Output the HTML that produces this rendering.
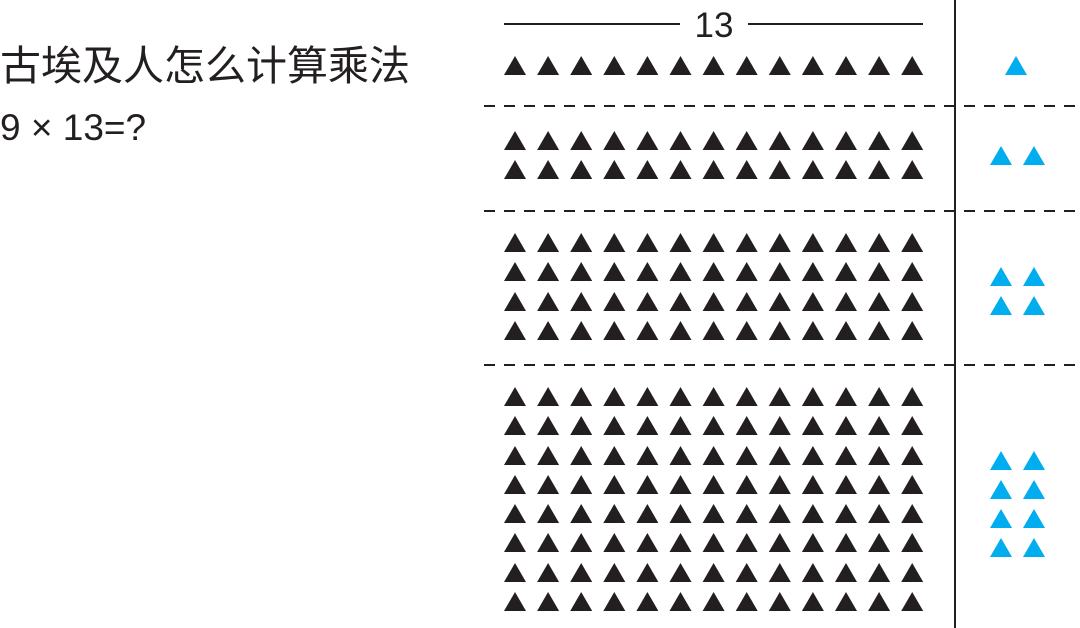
<!DOCTYPE html>
<html><head><meta charset="utf-8"><style>
html,body{margin:0;padding:0;background:#fff;width:1080px;height:628px;overflow:hidden}
svg{display:block}
</style></head><body>
<svg width="1080" height="628" viewBox="0 0 1080 628" xmlns="http://www.w3.org/2000/svg">
<text x="0" y="80" font-family="Liberation Sans, Noto Sans CJK SC, sans-serif" font-size="41" fill="#231f20">古埃及人怎么计算乘法</text>
<text x="0" y="140" font-family="Liberation Sans, sans-serif" font-size="37" fill="#231f20">9 × 13=?</text>
<line x1="504" y1="24" x2="680" y2="24" stroke="#231f20" stroke-width="2"/>
<line x1="748" y1="24" x2="923" y2="24" stroke="#231f20" stroke-width="2"/>
<text x="714" y="37" text-anchor="middle" font-family="Liberation Sans, sans-serif" font-size="35" fill="#231f20">13</text>
<line x1="955" y1="0" x2="955" y2="628" stroke="#231f20" stroke-width="2"/>
<g stroke="#231f20" stroke-width="2" stroke-dasharray="11,9">
<line x1="484" y1="106" x2="1080" y2="106"/>
<line x1="484" y1="211" x2="1080" y2="211"/>
<line x1="484" y1="365" x2="1080" y2="365"/>
</g>
<g id="tris"></g>
</svg>
<script>
var g=document.getElementById('tris'),ns='http://www.w3.org/2000/svg';
function tri(cx,cy,c){var p=document.createElementNS(ns,'polygon');
p.setAttribute('points',(cx-11)+','+(cy+9)+' '+(cx+11)+','+(cy+9)+' '+cx+','+(cy-10));
p.setAttribute('fill',c);g.appendChild(p);}
var rows=[66,141,170,243,272,302,331,397,426,456,485,514,543,573,602];
rows.forEach(function(y){for(var i=0;i<13;i++)tri(515+33.1*i,y,'#231f20');});
var B='#00aeef';
tri(1016,66,B);
[156].forEach(function(y){tri(1001,y,B);tri(1034,y,B);});
[277,306].forEach(function(y){tri(1001,y,B);tri(1034,y,B);});
[461,490,519,548].forEach(function(y){tri(1001,y,B);tri(1034,y,B);});
</script>
</body></html>
